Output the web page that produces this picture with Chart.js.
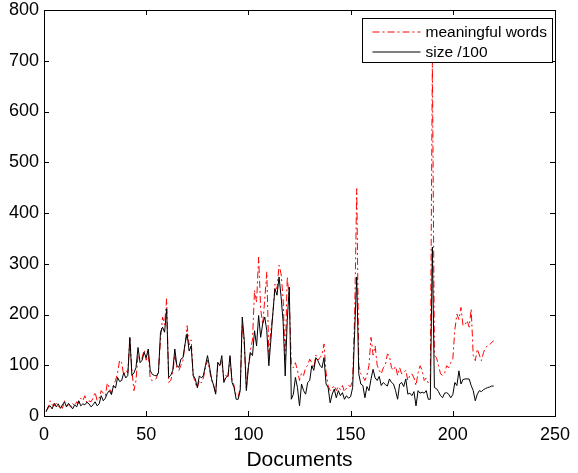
<!DOCTYPE html>
<html>
<head>
<meta charset="utf-8">
<script src="https://cdn.jsdelivr.net/npm/chart.js@4.4.0/dist/chart.umd.min.js"></script>
<style>
  html, body { margin: 0; padding: 0; background: #fff; }
  #wrap { width: 578px; height: 473px; }
</style>
</head>
<body>
<div id="wrap"><canvas id="docChart" width="578" height="473"></canvas></div>
<script>
// x categories: document index
const documents = Array.from({ length: 220 }, (_, i) => i + 1);

// meaningful words per document
const meaningfulWords = [
  10, 15, 30, 22, 20, 25, 18, 22, 15, 30,
  20, 22, 18, 25, 20, 28, 25, 35, 30, 40,
  25, 30, 28, 35, 47, 30, 35, 50, 45, 40,
  65, 55, 45, 60, 70, 85, 110, 105, 80, 90,
  85, 155, 90, 50, 70, 120, 110, 115, 130, 110,
  125, 72, 70, 72, 74, 90, 150, 195, 180, 231,
  66, 70, 85, 120, 95, 90, 100, 110, 140, 178,
  140, 150, 80, 65, 55, 70, 65, 75, 95, 110,
  90, 70, 60, 45, 100, 99, 110, 70, 80, 75,
  115, 70, 60, 40, 38, 55, 180, 140, 55, 100,
  130, 150, 248, 225, 313, 211, 180, 230, 284, 120,
  170, 200, 260, 250, 297, 280, 230, 110, 274, 230,
  100, 95, 105, 90, 70, 85, 80, 95, 100, 112,
  105, 95, 120, 110, 115, 120, 142, 85, 60, 50,
  55, 60, 50, 58, 52, 60, 48, 55, 60, 58,
  70, 200, 448, 100, 83, 78, 70, 80, 100, 155,
  120, 138, 100, 90, 83, 95, 100, 122, 119, 95,
  90, 98, 80, 95, 83, 85, 90, 70, 80, 83,
  75, 60, 85, 99, 90, 70, 75, 65, 70, 700,
  119, 115, 100, 83, 80, 85, 99, 95, 105, 112,
  170, 201, 190, 214, 178, 180, 188, 175, 211, 119,
  109, 132, 120, 109, 125, 135, 138, 140, 145, 148
];

// document size divided by 100
const sizeOver100 = [
  8, 18, 20, 14, 25, 18, 24, 15, 22, 28,
  18, 25, 20, 14, 22, 18, 30, 20, 24, 22,
  27, 24, 18, 22, 28, 20, 24, 40, 30, 35,
  45, 50, 42, 60, 55, 76, 68, 70, 85, 75,
  80, 155, 80, 85, 95, 135, 105, 110, 125, 115,
  132, 89, 82, 80, 79, 85, 165, 175, 165, 211,
  76, 80, 90, 132, 99, 96, 112, 115, 142, 162,
  128, 138, 80, 73, 56, 79, 75, 80, 100, 119,
  96, 73, 60, 43, 106, 99, 119, 66, 76, 79,
  119, 66, 56, 33, 33, 50, 195, 149, 50, 96,
  125, 119, 168, 138, 198, 155, 182, 195, 168, 99,
  150, 205, 251, 238, 274, 235, 185, 79, 188, 254,
  33, 43, 76, 56, 20, 63, 50, 43, 66, 70,
  99, 90, 115, 109, 100, 95, 115, 63, 56, 26,
  43, 53, 36, 50, 40, 46, 33, 40, 35, 38,
  56, 168, 274, 83, 63, 60, 36, 58, 50, 73,
  92, 75, 70, 78, 60, 66, 62, 59, 73, 66,
  63, 50, 33, 63, 66, 58, 73, 43, 45, 40,
  48, 20, 50, 45, 47, 45, 50, 33, 33, 333,
  56, 54, 48, 40, 36, 45, 46, 43, 36, 42,
  66, 60, 89, 63, 72, 73, 73, 73, 60, 50,
  30, 43, 50, 48, 52, 54, 56, 57, 59, 59
];

const xTicks = [0, 50, 100, 150, 200, 250];
const yTicks = [0, 100, 200, 300, 400, 500, 600, 700, 800];
const seriesNames = ['meaningful words', 'size /100'];

const FONT = 'Liberation Sans, Arial, Helvetica, sans-serif';

// box around the axes, inward ticks on all four sides, and the boxed legend
const matlabAxes = {
    id: 'matlabAxes',
    afterDraw(chart) {
        const ctx = chart.ctx;
        const area = chart.chartArea;
        const xs = chart.scales.x;
        const ys = chart.scales.y;
        const tl = 5;

        ctx.save();
        ctx.strokeStyle = '#000';
        ctx.lineWidth = 1;
        ctx.setLineDash([]);
        ctx.beginPath();
        xTicks.forEach(v => {
            const px = Math.round(xs.getPixelForValue(v)) + 0.5;
            ctx.moveTo(px, area.bottom);
            ctx.lineTo(px, area.bottom - tl);
            ctx.moveTo(px, area.top);
            ctx.lineTo(px, area.top + tl);
        });
        yTicks.forEach(v => {
            const py = Math.round(ys.getPixelForValue(v)) + 0.5;
            ctx.moveTo(area.left, py);
            ctx.lineTo(area.left + tl, py);
            ctx.moveTo(area.right, py);
            ctx.lineTo(area.right - tl, py);
        });
        ctx.stroke();

        ctx.strokeRect(Math.round(area.left) + 0.5, Math.round(area.top) + 0.5,
            Math.round(area.right - area.left), Math.round(area.bottom - area.top));

        // legend
        const lx = 362.5, ly = 18.5, lw = 190, lh = 44;
        ctx.fillStyle = '#fff';
        ctx.fillRect(lx, ly, lw, lh);
        ctx.strokeRect(lx, ly, lw, lh);
        ctx.font = '15.5px ' + FONT;
        ctx.textBaseline = 'middle';
        ctx.textAlign = 'left';
        chart.data.datasets.forEach((ds, i) => {
            const y = ly + 13.5 + i * 20;
            ctx.beginPath();
            ctx.strokeStyle = ds.borderColor;
            ctx.setLineDash(ds.borderDash || []);
            ctx.moveTo(lx + 10, y);
            ctx.lineTo(lx + 58, y);
            ctx.stroke();
            ctx.setLineDash([]);
            ctx.fillStyle = '#000';
            ctx.fillText(ds.label, lx + 63, y + 0.5);
        });
        ctx.restore();
    }
};

const ctx = document.getElementById('docChart').getContext('2d');
new Chart(ctx, {
    type: 'line',
    data: {
        datasets: [
            {
                label: seriesNames[0],
                data: meaningfulWords.map((v, i) => ({ x: documents[i], y: v })),
                borderColor: '#ff0000',
                borderWidth: 1,
                borderDash: [7, 3, 2, 3],
                pointRadius: 0,
                tension: 0,
                fill: false,
                order: 1
            },
            {
                label: seriesNames[1],
                data: sizeOver100.map((v, i) => ({ x: documents[i], y: v })),
                borderColor: '#000000',
                borderWidth: 1,
                pointRadius: 0,
                tension: 0,
                fill: false,
                order: 0
            }
        ]
    },
    options: {
        responsive: false,
        devicePixelRatio: 1,
        animation: false,
        layout: { padding: { top: 10, right: 23, left: 0, bottom: 0 } },
        plugins: {
            legend: { display: false },
            tooltip: { enabled: false }
        },
        scales: {
            x: {
                type: 'linear',
                min: 0,
                max: 250,
                afterBuildTicks(scale) { scale.ticks = xTicks.map(v => ({ value: v })); },
                afterFit(scale) {
                    scale.height = 57;
                    scale.paddingLeft = 0;
                    scale.paddingRight = 0;
                },
                grid: { display: false, drawTicks: false },
                border: { display: false },
                ticks: {
                    color: '#000',
                    padding: 8,
                    maxRotation: 0,
                    font: { family: FONT, size: 18 }
                },
                title: {
                    display: true,
                    text: 'Documents',
                    color: '#000',
                    padding: { top: 0, bottom: 0 },
                    font: { family: FONT, size: 21 }
                }
            },
            y: {
                min: 0,
                max: 800,
                afterBuildTicks(scale) { scale.ticks = yTicks.map(v => ({ value: v })); },
                afterFit(scale) {
                    scale.width = 44;
                    scale.paddingTop = 0;
                    scale.paddingBottom = 0;
                },
                grid: { display: false, drawTicks: false },
                border: { display: false },
                ticks: {
                    color: '#000',
                    padding: 5,
                    font: { family: FONT, size: 18 }
                }
            }
        }
    },
    plugins: [matlabAxes]
});
</script>
</body>
</html>
